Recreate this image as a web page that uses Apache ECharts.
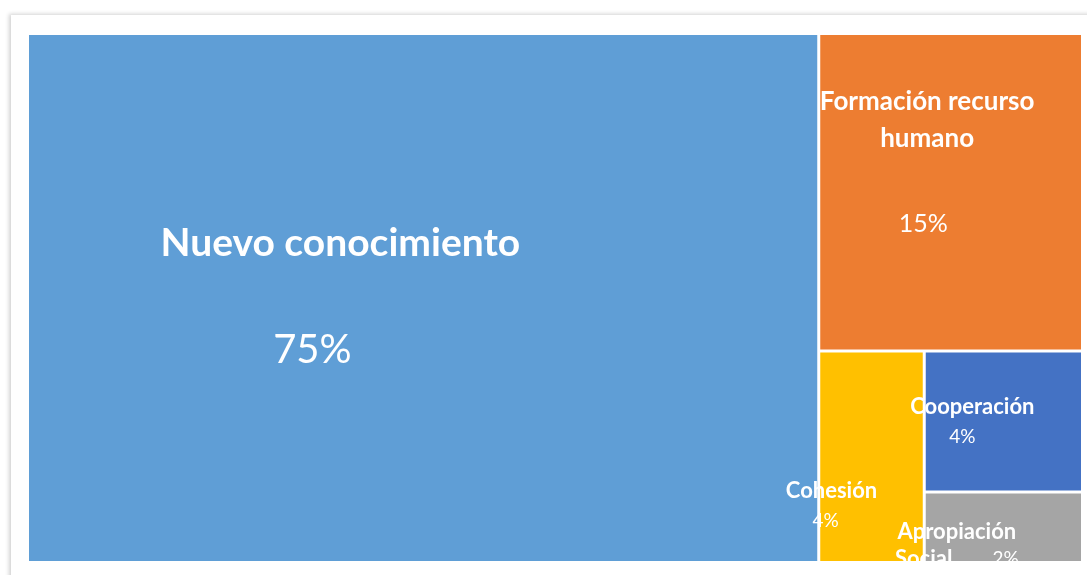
<!DOCTYPE html>
<html><head><meta charset="utf-8">
<script src="https://cdn.jsdelivr.net/npm/echarts@6/dist/echarts.min.js"></script>
<style>
html,body{margin:0;padding:0;background:#fff;width:1087px;height:575px;overflow:hidden;}
#card{position:absolute;left:11px;top:15px;width:1100px;height:600px;background:#fff;box-shadow:-2px -1px 4px rgba(0,0,0,0.18);}
#chart{position:absolute;left:0;top:0;width:1087px;height:567px;}
</style></head>
<body>
<div id="card"></div>
<div id="chart"></div>
<script>
// Data (order chosen so the treemap tie-break places Cohesión before Cooperación)
const categories = ['Nuevo conocimiento', 'Formación recurso humano', 'Cooperación', 'Cohesión', 'Apropiación Social'];
const values = [75, 15, 4, 4, 2];
const colors = ['#5F9ED6', '#ED7D31', '#4472C4', '#FFC000', '#A5A5A5'];

// Label display / layout settings (styling only)
const labelStyle = {
  'Nuevo conocimiento':       { pos: ['39.5%', '39.5%'], t: 39, p: 40, lt: 50, gap: 106, dx: -28, lines: ['Nuevo conocimiento'] },
  'Formación recurso humano': { pos: ['41%', '21%'],   t: 26, p: 25, lt: 37, gap: 85,  dx: -4,  lines: ['Formación recurso', 'humano'] },
  'Cooperación':              { pos: ['30%', '38.5%'], t: 22, p: 19, lt: 28, gap: 30,  dx: -10, lines: ['Cooperación'] },
  'Cohesión':                 { pos: ['11%', '66%'],   t: 22, p: 19, lt: 28, gap: 30,  dx: -6,  lines: ['Cohesión'] },
  'Apropiación Social':       { pos: ['20%', '55%'],   t: 22, p: 19, lt: 27, gap: 27,  dx: 0,   lines: ['Apropiación', 'Social'], inline: true }
};

const FONT = 'Lato';
const data = categories.map((c, i) => {
  const s = labelStyle[c];
  const pl = s.inline ? s.lt : (2 * s.gap - s.lt);
  return {
    name: c,
    value: values[i],
    itemStyle: { color: colors[i] },
    label: {
      position: s.pos,
      align: 'center',
      verticalAlign: 'top',
      offset: [0, -s.lt / 2 - 4],
      rich: {
        t: { fontSize: s.t, fontWeight: 'bold', color: '#fff', fontFamily: FONT, lineHeight: s.lt },
        p: { fontSize: s.p, color: '#fff', fontFamily: FONT, lineHeight: pl, padding: [0, Math.max(0, -2 * s.dx), 0, Math.max(0, 2 * s.dx)] },
        sp: { fontSize: s.p, color: '#fff', fontFamily: FONT, lineHeight: s.lt, width: 40 }
      },
      formatter: () => {
        const ls = s.lines.map(l => '{t|' + l + '}');
        if (s.inline) {
          ls[ls.length - 1] += '{sp|}{p|' + values[i] + '%}';
          return ls.join('\n');
        }
        return ls.join('\n') + '\n{p|' + values[i] + '%}';
      }
    }
  };
});

const chart = echarts.init(document.getElementById('chart'), null, { renderer: 'canvas' });
chart.setOption({
  animation: false,
  series: [{
    type: 'treemap',
    left: 27, top: 33, width: 1056, height: 530,
    roam: false, nodeClick: false,
    squareRatio: 0.7,
    breadcrumb: { show: false },
    itemStyle: { borderColor: '#fff', borderWidth: 1, gapWidth: 1 },
    label: { show: true, overflow: 'none' },
    data: data
  }]
});
</script>
</body></html>
